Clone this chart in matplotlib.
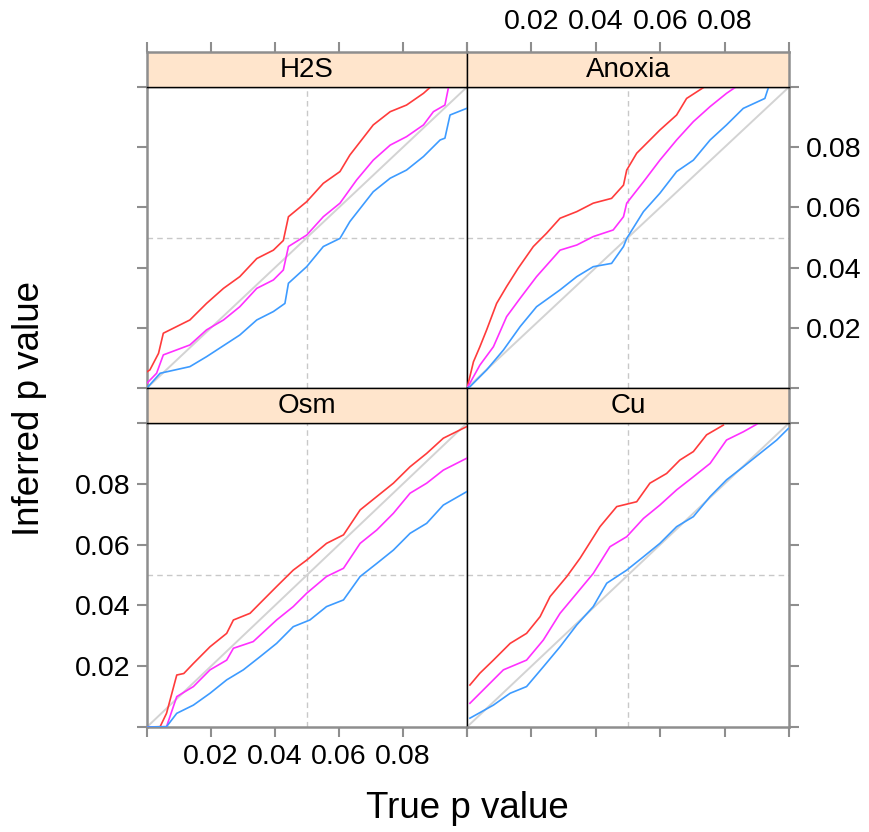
import matplotlib
matplotlib.use("Agg")
import matplotlib.pyplot as plt
from matplotlib.ticker import FixedLocator, FixedFormatter

plt.rcParams["font.family"] = ["Liberation Sans", "DejaVu Sans"]

# values (true p, inferred p)
h2s_red_x = [0.0, 0.0009, 0.0036, 0.0051, 0.0134, 0.0186, 0.0239, 0.029, 0.0343, 0.0395, 0.0426, 0.0442,
             0.0499, 0.0551, 0.0603, 0.0634, 0.0707, 0.076, 0.0811, 0.0864, 0.0884]
h2s_red_y = [0.0054, 0.006, 0.0115, 0.0182, 0.0226, 0.0281, 0.0331, 0.037, 0.043, 0.0458, 0.049, 0.0569,
             0.0619, 0.068, 0.0719, 0.0774, 0.0874, 0.0918, 0.094, 0.0979, 0.0998]
h2s_mag_x = [0.0, 0.003, 0.0051, 0.0134, 0.0186, 0.0239, 0.029, 0.0343, 0.0395, 0.0426, 0.0442, 0.0499,
             0.0551, 0.0603, 0.0655, 0.0707, 0.076, 0.0811, 0.0864, 0.0895, 0.0931, 0.0942]
h2s_mag_y = [0.0016, 0.0049, 0.011, 0.0143, 0.0193, 0.0226, 0.027, 0.0331, 0.0359, 0.0392, 0.047, 0.0508,
             0.0569, 0.0614, 0.0691, 0.0757, 0.0807, 0.0835, 0.0874, 0.0918, 0.094, 0.0998]
h2s_blu_x = [0.0, 0.0041, 0.0134, 0.0186, 0.029, 0.0343, 0.0395, 0.0431, 0.0442, 0.0499, 0.0551, 0.0603,
             0.0634, 0.0707, 0.076, 0.0811, 0.0864, 0.0916, 0.0931, 0.0947, 0.0999]
h2s_blu_y = [0.0, 0.0049, 0.0071, 0.0104, 0.0176, 0.0226, 0.0254, 0.0281, 0.0348, 0.0403, 0.047, 0.0497,
             0.0553, 0.0652, 0.0697, 0.0724, 0.0769, 0.0824, 0.083, 0.0907, 0.0929]

anox_red_x = [0.0, 0.0009, 0.002, 0.004, 0.0061, 0.0092, 0.0123, 0.0159, 0.0206, 0.0247, 0.0289, 0.0341,
              0.0392, 0.0449, 0.0486, 0.0496, 0.0527, 0.0599, 0.0651, 0.0682, 0.0734]
anox_red_y = [0.0, 0.0038, 0.0087, 0.0137, 0.0193, 0.0281, 0.0337, 0.0398, 0.047, 0.0514, 0.0564, 0.0586,
              0.0614, 0.063, 0.0674, 0.0724, 0.078, 0.0857, 0.0907, 0.0962, 0.0998]
anox_mag_x = [0.0, 0.0009, 0.004, 0.0082, 0.0123, 0.0165, 0.0216, 0.0289, 0.0341, 0.0392, 0.0454, 0.0486,
              0.0496, 0.0548, 0.0599, 0.0651, 0.0703, 0.0755, 0.0806, 0.0832]
anox_mag_y = [0.0, 0.0016, 0.0076, 0.0137, 0.0237, 0.0298, 0.037, 0.0458, 0.0475, 0.0503, 0.0525, 0.0569,
              0.0614, 0.0685, 0.0757, 0.0824, 0.0885, 0.0935, 0.0979, 0.0998]
anox_blu_x = [0.0, 0.0009, 0.0061, 0.0113, 0.0165, 0.0216, 0.0289, 0.0341, 0.0392, 0.0449, 0.0486, 0.0496,
              0.0548, 0.0599, 0.0651, 0.0703, 0.0755, 0.0806, 0.0858, 0.0925, 0.0936]
anox_blu_y = [0.0, 0.0004, 0.006, 0.0126, 0.0204, 0.027, 0.0326, 0.037, 0.0403, 0.0414, 0.047, 0.0497,
              0.0586, 0.0647, 0.0719, 0.0757, 0.0824, 0.0874, 0.0929, 0.0962, 0.0998]

osm_red_x = [0.0, 0.0041, 0.0061, 0.0093, 0.0115, 0.0145, 0.0197, 0.0249, 0.027, 0.0322, 0.0353, 0.0405,
             0.0457, 0.0499, 0.0561, 0.0614, 0.0666, 0.0718, 0.077, 0.0822, 0.0874, 0.0926, 0.0999]
osm_red_y = [0.0, 0.0001, 0.0045, 0.0171, 0.0176, 0.0209, 0.0264, 0.0308, 0.0352, 0.0374, 0.0407, 0.0462,
             0.0516, 0.0549, 0.0604, 0.0632, 0.0714, 0.0758, 0.0802, 0.0856, 0.09, 0.095, 0.0988]
osm_mag_x = [0.0, 0.0061, 0.0093, 0.0145, 0.0197, 0.0249, 0.027, 0.0332, 0.0405, 0.0457, 0.0499, 0.0561,
             0.0614, 0.0666, 0.0718, 0.077, 0.0822, 0.0874, 0.0926, 0.0999]
osm_mag_y = [0.0, 0.0001, 0.01, 0.0133, 0.0188, 0.022, 0.0259, 0.0281, 0.0352, 0.0396, 0.044, 0.0495,
             0.0522, 0.0604, 0.0648, 0.0703, 0.0769, 0.0802, 0.0845, 0.0884]
osm_blu_x = [0.0, 0.0061, 0.0093, 0.0145, 0.0197, 0.0249, 0.0301, 0.0353, 0.0405, 0.0457, 0.0509, 0.0561,
             0.0614, 0.0666, 0.0718, 0.077, 0.0822, 0.0874, 0.0926, 0.0999]
osm_blu_y = [0.0, 0.0001, 0.0045, 0.0072, 0.0111, 0.0155, 0.0188, 0.0231, 0.0275, 0.033, 0.0352, 0.0396,
             0.0418, 0.0495, 0.0538, 0.0582, 0.0637, 0.067, 0.073, 0.0774]

cu_red_x = [0.0009, 0.004, 0.0082, 0.0134, 0.0185, 0.0227, 0.0258, 0.031, 0.0351, 0.0413, 0.0465, 0.0527,
            0.0568, 0.062, 0.0661, 0.0703, 0.0744, 0.0796]
cu_red_y = [0.0138, 0.0177, 0.022, 0.0275, 0.0308, 0.0363, 0.0429, 0.0495, 0.0555, 0.0659, 0.0725, 0.0741,
            0.0802, 0.0834, 0.0878, 0.0906, 0.0961, 0.0993]
cu_mag_x = [0.0009, 0.0061, 0.0113, 0.0185, 0.0237, 0.0289, 0.0341, 0.0392, 0.0444, 0.0496, 0.0548, 0.0599,
            0.0651, 0.0703, 0.0755, 0.0806, 0.0858, 0.09]
cu_mag_y = [0.0078, 0.0133, 0.0188, 0.022, 0.0286, 0.0374, 0.044, 0.0505, 0.0593, 0.0626, 0.0686, 0.073,
            0.078, 0.0823, 0.0867, 0.0944, 0.0971, 0.0996]
cu_blu_x = [0.0009, 0.0082, 0.0134, 0.0185, 0.0237, 0.0289, 0.0341, 0.0392, 0.0434, 0.0496, 0.0548, 0.0599,
            0.0651, 0.0703, 0.0755, 0.0806, 0.0858, 0.091, 0.0962, 0.0998]
cu_blu_y = [0.0029, 0.0072, 0.0111, 0.0133, 0.0198, 0.0264, 0.0336, 0.0396, 0.0473, 0.0516, 0.056, 0.0604,
            0.0659, 0.0692, 0.0758, 0.0813, 0.0856, 0.09, 0.0944, 0.0982]

panel_names = ["H2S", "Anoxia", "Osm", "Cu"]
panel_data = {
    "H2S": [(h2s_red_x, h2s_red_y), (h2s_mag_x, h2s_mag_y), (h2s_blu_x, h2s_blu_y)],
    "Anoxia": [(anox_red_x, anox_red_y), (anox_mag_x, anox_mag_y), (anox_blu_x, anox_blu_y)],
    "Osm": [(osm_red_x, osm_red_y), (osm_mag_x, osm_mag_y), (osm_blu_x, osm_blu_y)],
    "Cu": [(cu_red_x, cu_red_y), (cu_mag_x, cu_mag_y), (cu_blu_x, cu_blu_y)],
}
line_colors = ["#ff3b3b", "#ff30ff", "#3d9bff"]
ticks = [0.0, 0.02, 0.04, 0.06, 0.08, 0.1]
tick_labels = ["", "0.02", "0.04", "0.06", "0.08", ""]

W, H = 870, 832
OUTER = "#8e8e8e"
STRIP_BG = "#ffe5cc"
FS = 20.5


def px(l, t, w, h):
    return [l / W, 1 - (t + h) / H, w / W, h / H]


fig = plt.figure(figsize=(W / 100, H / 100), dpi=100)

# panel layout: (left, top, width, height) in pixels
layout = {
    "H2S": (147, 87, 320, 301),
    "Anoxia": (467, 87, 322, 301),
    "Osm": (147, 423, 320, 304),
    "Cu": (467, 423, 322, 304),
}
# which sides are on the outside of the whole lattice
outer_sides = {
    "H2S": {"left"},
    "Anoxia": {"right"},
    "Osm": {"left", "bottom"},
    "Cu": {"right", "bottom"},
}


def style_spines(ax, outer):
    for side, sp in ax.spines.items():
        if side in outer:
            sp.set_color(OUTER)
            sp.set_linewidth(1.8)
        else:
            sp.set_color("black")
            sp.set_linewidth(1.0)


def fmt_axis(axis, show_labels):
    axis.set_major_locator(FixedLocator(ticks))
    axis.set_major_formatter(FixedFormatter(tick_labels if show_labels else [""] * len(ticks)))


for i, name in enumerate(panel_names):
    l, t, w, h = layout[name]
    ax = fig.add_axes(px(l, t, w, h))
    ax.set_xlim(0, 0.1)
    ax.set_ylim(0, 0.1)
    ax.axvline(0.05, color="#c8c8c8", lw=1.0, ls=(0, (4, 3)), zorder=1)
    ax.axhline(0.05, color="#c8c8c8", lw=1.0, ls=(0, (4, 3)), zorder=1)
    ax.plot([0, 0.1], [0, 0.1], color="#d3d3d3", lw=1.4, zorder=2)
    for (xs, ys), c in zip(panel_data[name], line_colors):
        ax.plot(xs, ys, color=c, lw=1.2, zorder=3)

    top_row = i < 2
    left_col = i % 2 == 0
    # lattice alternates labels: bottom labels on left column, top labels on right column
    fmt_axis(ax.xaxis, (not top_row) and left_col)
    fmt_axis(ax.yaxis, (left_col and not top_row) or (not left_col and top_row))
    ax.tick_params(axis="both", direction="out", length=7, width=1.5, color=OUTER,
                   labelsize=FS, pad=5)
    ax.tick_params(axis="x", bottom=not top_row, top=False, labelbottom=not top_row, labeltop=False)
    if left_col:
        ax.tick_params(axis="y", left=True, right=False, labelleft=True, labelright=False)
    else:
        ax.tick_params(axis="y", left=False, right=True, labelleft=False, labelright=True)
    style_spines(ax, outer_sides[name])

    # strip
    sax = fig.add_axes(px(l, t - 35, w, 35))
    sax.set_facecolor(STRIP_BG)
    sax.set_xlim(0, 0.1)
    sax.set_ylim(0, 1)
    sax.set_yticks([])
    sax.text(0.5, 0.48, name, transform=sax.transAxes, ha="center", va="center", fontsize=20)
    s_outer = set(outer_sides[name]) - {"bottom"}
    if top_row:
        s_outer.add("top")
        fmt_axis(sax.xaxis, not left_col)
        sax.tick_params(axis="x", bottom=False, top=True, labelbottom=False, labeltop=not left_col,
                        direction="out", length=7, width=1.5, color=OUTER, labelsize=FS, pad=5)
    else:
        sax.set_xticks([])
    style_spines(sax, s_outer)

fig.text(467 / W, 1 - 808 / H, "True p value", ha="center", va="center", fontsize=26.5)
fig.text(30 / W, 1 - 408 / H, "Inferred p value", ha="center", va="center", rotation=90, fontsize=26.5)

fig.savefig("out.png", dpi=100, facecolor="white")
